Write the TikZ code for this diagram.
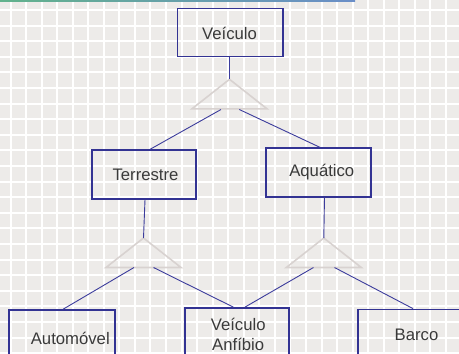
\documentclass[tikz,border=0pt]{standalone}
\usepackage{fontspec}
\setmainfont{Liberation Sans}
\definecolor{paper}{HTML}{EDEBE9}
\definecolor{boxline}{HTML}{333393}
\definecolor{linkline}{HTML}{3C3C9C}
\definecolor{tri}{HTML}{D8D2D0}
\definecolor{ink}{HTML}{3A3A3A}
\definecolor{barL}{HTML}{62B28C}
\definecolor{barR}{HTML}{6A8EC8}
\tikzset{
  gridline/.style={white, line width=2pt},
  entity/.style={draw=boxline, line width=1.8pt, rectangle, inner sep=0pt},
  caption/.style={text=ink, font=\fontsize{16.7}{20}\selectfont, inner sep=0pt, align=center},
  isa/.style={draw=tri, line width=1.6pt, line join=miter},
  link/.style={draw=linkline, line width=0.9pt},
}
\begin{document}
\begin{tikzpicture}[x=1pt,y=-1pt]
\useasboundingbox (0,0) rectangle (459,354);
\begin{scope}
\clip (0,0) rectangle (459,354);
% paper with white squared grid
\fill[paper] (0,0) rectangle (459,354);
\foreach \i in {0,...,29} \draw[gridline] ({10.5+\i*15.55},0) -- ++(0,354);
\foreach \j in {0,...,23} \draw[gridline] (0,{10+\j*15.6}) -- ++(459,0);
% coloured rule along the top edge
\shade[left color=barL, right color=barR] (0,0) rectangle (355,1.6);

% entity boxes
\node[entity, minimum width=105.5pt, minimum height=48pt] (veh) at (230.2,32.5) {};
\node[entity, minimum width=104.3pt, minimum height=48.5pt] (ter) at (143.8,174.5) {};
\node[entity, minimum width=105pt, minimum height=48.5pt] (aqu) at (318.5,172.5) {};
\node[entity, minimum width=105.7pt, minimum height=52pt] (aut) at (62.2,336) {};
\node[entity, minimum width=104.3pt, minimum height=52pt] (anf) at (237.2,334) {};
\node[entity, minimum width=106pt, minimum height=52pt] (bar) at (410.7,335.5) {};

% box captions
\node[caption] (vehT) at (229.5,33.5) {Veículo};
\node[caption] (terT) at (145.5,175) {Terrestre};
\node[caption] (aquT) at (321.8,172.5) {Aquático};
\node[caption] (autT) at (70.3,338) {Automóvel};
\node[caption] (anfT) at (238.2,334.8) {Veículo\\Anfíbio};
\node[caption] (barT) at (416.5,335) {Barco};

% specialisation triangles: apex and the two points on the base
\coordinate (t1) at (229.5,79.3);
\coordinate (t2) at (143.5,238);
\coordinate (t3) at (323.8,238);
\foreach \t in {t1,t2,t3}
  \draw[isa] (\t) -- ++(-37.5,29.5) -- ++(75,0) -- cycle;
\coordinate (t1a) at (221,109.5);
\coordinate (t1b) at (239.3,109.5);
\coordinate (t2a) at (134,267.5);
\coordinate (t2b) at (153.5,267.5);
\coordinate (t3a) at (313.5,267.5);
\coordinate (t3b) at (334.5,267.5);

% connectors
\draw[link] (veh.south -| t1) -- (t1);
\draw[link] (t1a) -- (ter.north -| 150,0);
\draw[link] (t1b) -- (aqu.north -| 320,0);
\draw[link] (ter.south -| 145,0) -- (t2);
\draw[link] (aqu.south -| 324.5,0) -- (t3);
\draw[link] (t2a) -- (aut.north -| 63.3,0);
\draw[link] (t2b) -- (anf.north -| 233.3,0);
\draw[link] (t3a) -- (anf.north -| 245,0);
\draw[link] (t3b) -- (bar.north -| 413,0);
\end{scope}
\end{tikzpicture}
\end{document}
